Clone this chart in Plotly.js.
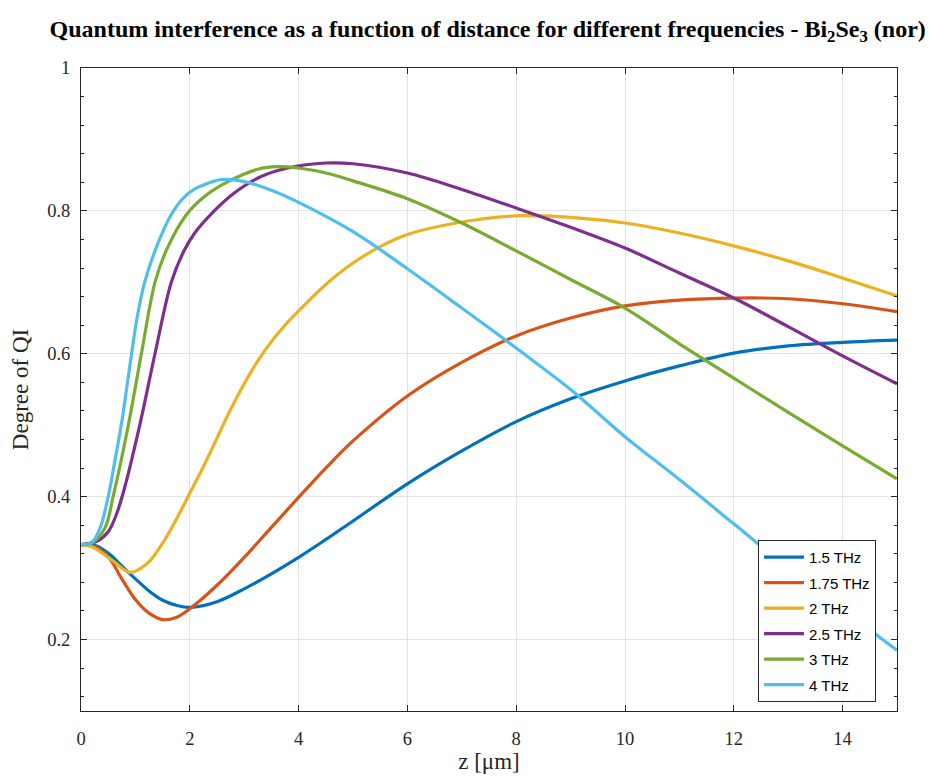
<!DOCTYPE html>
<html>
<head>
<meta charset="utf-8">
<script src="https://cdn.plot.ly/plotly-3.0.1.min.js"></script>
<style>html,body{margin:0;padding:0;background:#fff;}</style>
</head>
<body>
<div id="chart" style="width:929px;height:776px;"></div>
<script>
// distance z [µm] and degree of QI
const z_1p5  = [0, 0.25, 0.5, 0.75, 1, 1.25, 1.5, 1.75, 2, 2.5, 3, 3.5, 4, 4.5, 5, 6, 7, 8, 9, 10, 11, 12, 13, 14, 15];
const qi_1p5 = [0.333, 0.332, 0.321, 0.303, 0.285, 0.268, 0.255, 0.248, 0.245, 0.253, 0.271, 0.292, 0.315, 0.340, 0.366, 0.418, 0.464, 0.505, 0.537, 0.562, 0.583, 0.601, 0.611, 0.616, 0.619];

const z_1p75  = [0, 0.25, 0.5, 0.75, 1, 1.25, 1.5, 1.75, 2, 2.5, 3, 3.5, 4, 4.5, 5, 6, 7, 8, 9, 10, 11, 12, 13, 14, 15];
const qi_1p75 = [0.333, 0.330, 0.316, 0.285, 0.256, 0.237, 0.228, 0.231, 0.243, 0.276, 0.315, 0.357, 0.399, 0.440, 0.478, 0.541, 0.588, 0.625, 0.650, 0.667, 0.675, 0.678, 0.677, 0.670, 0.659];

const z_2  = [0, 0.2, 0.59, 0.9, 1.21, 1.5, 1.75, 2, 2.25, 2.5, 2.75, 3, 3.25, 3.5, 3.75, 4, 4.5, 5, 5.5, 6, 6.9, 8, 9.17, 10, 11, 12, 13, 14, 15];
const qi_2 = [0.333, 0.330, 0.310, 0.294, 0.306, 0.335, 0.368, 0.405, 0.442, 0.482, 0.522, 0.558, 0.590, 0.617, 0.640, 0.660, 0.697, 0.727, 0.750, 0.767, 0.783, 0.793, 0.790, 0.783, 0.769, 0.751, 0.730, 0.706, 0.681];

const z_2p5  = [0, 0.3, 0.5, 0.65, 0.8, 1.08, 1.36, 1.66, 1.88, 2.1, 2.45, 2.8, 3.28, 3.8, 4.5, 5, 6, 7, 8, 9, 10, 11, 12, 13, 14, 15];
const qi_2p5 = [0.333, 0.338, 0.351, 0.375, 0.412, 0.500, 0.600, 0.700, 0.742, 0.770, 0.800, 0.824, 0.847, 0.860, 0.867, 0.866, 0.853, 0.830, 0.804, 0.777, 0.748, 0.713, 0.678, 0.638, 0.597, 0.558];

const z_3  = [0, 0.2, 0.44, 0.59, 0.87, 1.11, 1.36, 1.57, 1.94, 2.3, 2.73, 3.28, 3.6, 4, 4.5, 5, 6, 7, 8, 9, 10, 11, 12, 13, 14, 15];
const qi_3 = [0.333, 0.335, 0.356, 0.400, 0.500, 0.600, 0.700, 0.745, 0.795, 0.822, 0.842, 0.859, 0.862, 0.860, 0.853, 0.842, 0.817, 0.783, 0.744, 0.704, 0.664, 0.614, 0.566, 0.518, 0.471, 0.425];

const z_4  = [0, 0.2, 0.35, 0.5, 0.62, 0.75, 0.93, 1.03, 1.17, 1.39, 1.66, 1.88, 2.1, 2.31, 2.6, 3, 3.5, 4, 5, 6, 7, 8, 9, 10, 11, 12, 13, 14, 15];
const qi_4 = [0.333, 0.336, 0.356, 0.400, 0.449, 0.505, 0.600, 0.650, 0.700, 0.750, 0.795, 0.818, 0.831, 0.838, 0.844, 0.841, 0.829, 0.812, 0.771, 0.719, 0.664, 0.608, 0.550, 0.484, 0.424, 0.362, 0.300, 0.242, 0.185];

const seriesNames = ['1.5 THz', '1.75 THz', '2 THz', '2.5 THz', '3 THz', '4 THz'];
const seriesX = [z_1p5, z_1p75, z_2, z_2p5, z_3, z_4];
const seriesY = [qi_1p5, qi_1p75, qi_2, qi_2p5, qi_3, qi_4];
const colors = ['#0072BD', '#D95319', '#EDB120', '#7E2F8E', '#77AC30', '#4DBEEE'];

const xTicks = [0, 2, 4, 6, 8, 10, 12, 14];
const yTicks = [0.2, 0.4, 0.6, 0.8, 1];

const traces = seriesY.map((y, i) => ({
  x: seriesX[i], y: y, type: 'scatter', mode: 'lines',
  name: seriesNames[i], legendgroup: 'g' + i,
  line: {color: colors[i], width: 3.2, shape: 'spline', smoothing: 1}
}));

const serif = 'Liberation Serif, Times New Roman, serif';
const axisCommon = {
  showline: true, linecolor: '#262626', linewidth: 1, mirror: 'allticks',
  ticks: 'inside', ticklen: 6, tickcolor: '#262626', tickwidth: 1,
  showgrid: true, gridcolor: '#e3e3e3', gridwidth: 1, zeroline: false,
  tickfont: {family: serif, size: 18.5, color: '#262626'}
};

const layout = {
  width: 929, height: 776,
  paper_bgcolor: '#ffffff', plot_bgcolor: '#ffffff',
  margin: {l: 81, r: 32, t: 68, b: 65},
  showlegend: true,
  title: {
    text: '<b>Quantum interference as a function of distance for different frequencies - Bi<sub>2</sub>Se<sub>3</sub> (nor)</b>',
    font: {family: serif, size: 24, color: '#000'},
    x: 0.525, xanchor: 'center', y: 0.963, yanchor: 'middle'
  },
  xaxis: Object.assign({}, axisCommon, {
    range: [0, 15], tickvals: xTicks, ticktext: xTicks.map(String),
    ticklabelstandoff: 11,
    title: {text: 'z [μm]', font: {family: serif, size: 23, color: '#262626'}, standoff: 2}
  }),
  yaxis: Object.assign({}, axisCommon, {
    range: [0.1, 1], tickvals: yTicks, ticktext: yTicks.map(String),
    ticklabelstandoff: 6,
    minor: {dtick: 0.04, ticks: 'inside', ticklen: 3, tickcolor: '#262626', showgrid: false},
    title: {text: 'Degree of QI', font: {family: serif, size: 23, color: '#262626'}, standoff: 12}
  }),
  legend: {
    x: 0.8297, y: 0.266, xanchor: 'left', yanchor: 'top',
    bgcolor: '#ffffff', bordercolor: '#262626', borderwidth: 1,
    font: {family: 'Liberation Sans, Arial, sans-serif', size: 15, color: '#000'},
    traceorder: 'grouped', tracegroupgap: 3,
    itemwidth: 40
  }
};

Plotly.newPlot('chart', traces, layout, {displayModeBar: false, staticPlot: true});
</script>
</body>
</html>
